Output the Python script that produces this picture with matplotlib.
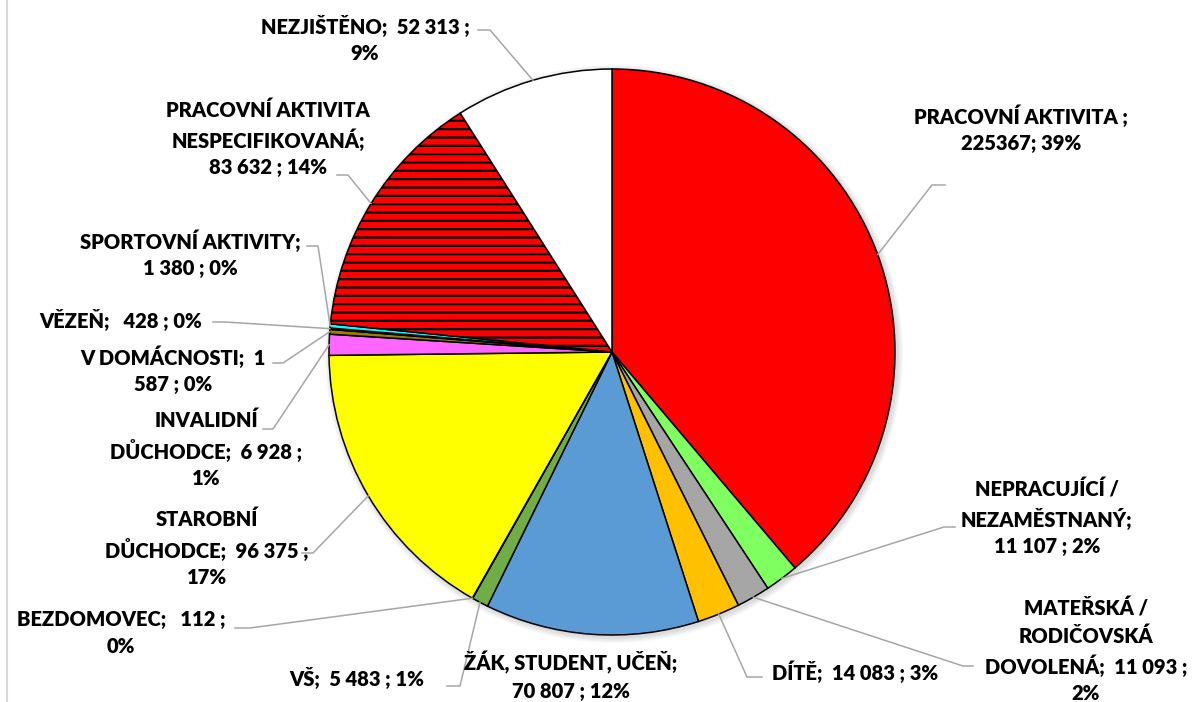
import numpy as np
import matplotlib

matplotlib.use("Agg")
import matplotlib.pyplot as plt
from matplotlib.patches import Circle

plt.rcParams["font.family"] = ["Lato", "DejaVu Sans"]
plt.rcParams["hatch.linewidth"] = 1.6

# hodnoty podle typu činnosti (po směru hodinových ručiček od 12 h)
categories = [
    "PRACOVNÍ AKTIVITA",
    "NEPRACUJÍCÍ / NEZAMĚSTNANÝ",
    "MATEŘSKÁ / RODIČOVSKÁ DOVOLENÁ",
    "DÍTĚ",
    "ŽÁK, STUDENT, UČEŇ",
    "VŠ",
    "BEZDOMOVEC",
    "STAROBNÍ DŮCHODCE",
    "INVALIDNÍ DŮCHODCE",
    "V DOMÁCNOSTI",
    "VĚZEŇ",
    "SPORTOVNÍ AKTIVITY",
    "PRACOVNÍ AKTIVITA NESPECIFIKOVANÁ",
    "NEZJIŠTĚNO",
]
values = [225367, 11107, 11093, 14083, 70807, 5483, 112,
          96375, 6928, 1587, 428, 1380, 83632, 52313]
colors = ["#FF0000", "#80FF60", "#A6A6A6", "#FFC000", "#5B9BD5", "#70AD47",
          "#264478", "#FFFF00", "#FF66FF", "#9C7A06", "#1A1A1A", "#00FFFF",
          "#FF0000", "#FFFFFF"]
label_texts = [
    "PRACOVNÍ AKTIVITA ;\n225367; 39%",
    "NEPRACUJÍCÍ /\nNEZAMĚSTNANÝ;\n11 107 ; 2%",
    "MATEŘSKÁ /\nRODIČOVSKÁ\nDOVOLENÁ;  11 093 ;\n2%",
    "DÍTĚ;  14 083 ; 3%",
    "ŽÁK, STUDENT, UČEŇ;\n70 807 ; 12%",
    "VŠ;  5 483 ; 1%",
    "BEZDOMOVEC;   112 ;\n0%",
    "STAROBNÍ\nDŮCHODCE;  96 375 ;\n17%",
    "INVALIDNÍ\nDŮCHODCE;  6 928 ;\n1%",
    "V DOMÁCNOSTI;  1\n587 ; 0%",
    "VĚZEŇ;   428 ; 0%",
    "SPORTOVNÍ AKTIVITY;\n1 380 ; 0%",
    "PRACOVNÍ AKTIVITA\nNESPECIFIKOVANÁ;\n83 632 ; 14%",
    "NEZJIŠTĚNO;  52 313 ;\n9%",
]

# rozložení v pixelech obrázku (y dolů)
center = (612, 352)
radius = 283
label_pos = [(1021, 129), (1047, 518), (1086, 651), (855, 672), (571, 676),
             (357, 678), (121, 633), (207, 548), (206, 449), (173, 370),
             (121, 320), (190, 254), (268, 139), (365, 39)]
# (začátek u textu, zalomení), None = bez odkazové čáry
leaders = [((945, 185), (932, 185)), ((955, 527), (944, 527)),
           ((973, 666), (963, 666)), ((762, 677), (747, 677)), None,
           ((447, 686), (460, 686)), ((235, 628), (250, 628)),
           ((302, 553), (313, 553)), ((263, 429), (273, 429)),
           ((273, 363), (283, 363)), ((213, 322), (225, 322)),
           ((307, 246), (318, 246)), ((337, 175), (348, 175)),
           ((478, 30), (490, 30))]

fig = plt.figure(figsize=(11.98, 7.02), dpi=100)
ax = fig.add_axes([0, 0, 1, 1])

# jemný stín pod koláčem
for k in range(6):
    ax.add_patch(Circle((center[0] + 2, center[1] + 2), radius + 1 + k,
                        facecolor="black", edgecolor="none", alpha=0.025,
                        zorder=0))

wedges, _ = ax.pie(values, colors=colors, startangle=-90, counterclock=True,
                   center=center, radius=radius, frame=True,
                   wedgeprops=dict(edgecolor="black", linewidth=1.1))
ax.set_xlim(0, 1198)
ax.set_ylim(702, 0)
ax.axis("off")
wedges[12].set_hatch("--")

for wedge, text, pos, leader in zip(wedges, label_texts, label_pos, leaders):
    ax.text(pos[0], pos[1], text, ha="center", va="center", fontsize=14.5,
            fontweight="heavy", linespacing=1.45, color="black", zorder=5)
    if leader is None:
        continue
    mid = np.deg2rad((wedge.theta1 + wedge.theta2) / 2)
    edge = (center[0] + radius * np.cos(mid), center[1] + radius * np.sin(mid))
    xs = [leader[0][0], leader[1][0], edge[0]]
    ys = [leader[0][1], leader[1][1], edge[1]]
    ax.plot(xs, ys, color="#A6A6A6", linewidth=1.1, zorder=1)

# levý okraj oblasti grafu
ax.plot([7, 7], [0, 702], color="#D9D9D9", linewidth=1.5)

fig.savefig("out.png", dpi=100)
